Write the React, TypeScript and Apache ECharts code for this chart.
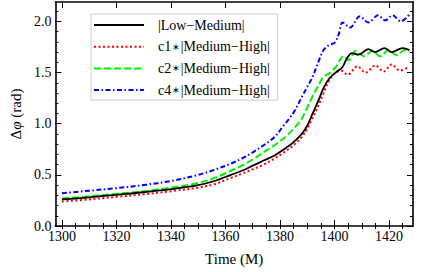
import React, { useEffect, useRef } from "react";
import * as echarts from "echarts";

const xMajor = [1300, 1320, 1340, 1360, 1380, 1400, 1420];
const xMinor = [1300, 1305, 1310, 1315, 1320, 1325, 1330, 1335, 1340, 1345, 1350, 1355, 1360, 1365, 1370, 1375, 1380, 1385, 1390, 1395, 1400, 1405, 1410, 1415, 1420, 1425];
const yMajor = [0, 0.5, 1.0, 1.5, 2.0];
const yMinor = [0, 0.1, 0.2, 0.3, 0.4, 0.5, 0.6, 0.7, 0.8, 0.9, 1.0, 1.1, 1.2, 1.3, 1.4, 1.5, 1.6, 1.7, 1.8, 1.9, 2.0, 2.1];

const seriesNames = ["|Low\u2212Medium|", "c1\u2217|Medium\u2212High|", "c2\u2217|Medium\u2212High|", "c4\u2217|Medium\u2212High|"];

const blackT = [1300, 1310, 1320, 1330, 1340, 1350, 1356, 1362, 1366, 1370, 1374, 1378, 1382, 1385, 1388, 1390, 1392, 1394, 1396, 1398, 1400.4, 1402.8, 1404.6, 1406.4, 1408.8, 1412.4, 1414.8, 1418.4, 1420.9, 1425, 1427.5];
const blackV = [0.26, 0.28, 0.305, 0.33, 0.36, 0.40, 0.44, 0.50, 0.54, 0.59, 0.64, 0.69, 0.76, 0.82, 0.90, 0.98, 1.10, 1.22, 1.35, 1.44, 1.50, 1.55, 1.64, 1.69, 1.675, 1.73, 1.70, 1.74, 1.70, 1.74, 1.72];

const redT = [1300, 1310, 1320, 1330, 1340, 1350, 1356, 1362, 1366, 1370, 1374, 1378, 1382, 1385, 1388, 1390, 1392, 1394, 1396, 1398, 1400, 1402.4, 1404.8, 1408.4, 1411.4, 1415, 1418, 1421, 1424, 1427.5];
const redV = [0.24, 0.26, 0.285, 0.31, 0.34, 0.375, 0.41, 0.47, 0.51, 0.555, 0.60, 0.66, 0.73, 0.79, 0.87, 0.95, 1.06, 1.17, 1.30, 1.42, 1.49, 1.52, 1.48, 1.56, 1.50, 1.57, 1.51, 1.58, 1.52, 1.56];

const greenT = [1300, 1310, 1320, 1330, 1340, 1350, 1356, 1362, 1366, 1370, 1374, 1378, 1382, 1385, 1388, 1390, 1392, 1394, 1396, 1398, 1400.4, 1403.4, 1405.2, 1407.8, 1410.8, 1413.8, 1416.8, 1419.8, 1422.8, 1425.8, 1427.5];
const greenV = [0.27, 0.29, 0.315, 0.34, 0.375, 0.42, 0.47, 0.54, 0.59, 0.65, 0.72, 0.79, 0.87, 0.95, 1.05, 1.16, 1.27, 1.37, 1.46, 1.49, 1.55, 1.66, 1.62, 1.71, 1.66, 1.71, 1.66, 1.72, 1.67, 1.72, 1.70];

const blueT = [1300, 1310, 1320, 1330, 1340, 1350, 1356, 1362, 1366, 1370, 1374, 1378, 1381, 1385, 1388, 1390, 1392, 1394, 1396, 1398, 1400, 1401.5, 1403, 1405.7, 1409.3, 1412.4, 1416, 1418.6, 1421.3, 1424.3, 1427.5];
const blueV = [0.32, 0.345, 0.37, 0.40, 0.44, 0.50, 0.55, 0.61, 0.66, 0.72, 0.79, 0.87, 0.97, 1.11, 1.26, 1.36, 1.46, 1.60, 1.72, 1.77, 1.79, 1.87, 1.99, 1.94, 2.05, 1.99, 2.06, 2.01, 2.06, 2.00, 2.07];

const FONT = "Liberation Serif, Times New Roman, serif";

function pairs(t: number[], v: number[]) {
  return t.map((x, i) => [x, v[i]]);
}

export default function App() {
  const ref = useRef<HTMLDivElement>(null);
  useEffect(() => {
    if (!ref.current) return;
    const chart = echarts.init(ref.current, undefined, { renderer: "svg" });
    const xMin = 1297.6, xMax = 1428.8, yMin = 0, yMax = 2.19;
    const frame = { show: true, onZero: false, lineStyle: { color: "#000", width: 1.6 } };
    const noLine = { show: false };
    const mkX = (pos: string, ticks: number[], len: number, labels: boolean, line: boolean, extra: any = {}) => ({
      type: "value", min: xMin, max: xMax, position: pos, gridIndex: 0,
      axisLine: line ? frame : noLine,
      axisTick: { show: true, inside: true, length: len, customValues: ticks, lineStyle: { color: "#000", width: 1 } },
      axisLabel: labels
        ? { show: true, customValues: xMajor, color: "#000", fontFamily: FONT, fontSize: 14, margin: 3, formatter: (v: number) => String(Math.round(v)) }
        : { show: false },
      splitLine: { show: false },
      ...extra,
    });
    const mkY = (pos: string, ticks: number[], len: number, labels: boolean, line: boolean, extra: any = {}) => ({
      type: "value", min: yMin, max: yMax, position: pos, gridIndex: 0,
      axisLine: line ? frame : noLine,
      axisTick: { show: true, inside: true, length: len, customValues: ticks, lineStyle: { color: "#000", width: 1 } },
      axisLabel: labels
        ? { show: true, customValues: yMajor, color: "#000", fontFamily: FONT, fontSize: 14, margin: 4, formatter: (v: number) => v.toFixed(1) }
        : { show: false },
      splitLine: { show: false },
      ...extra,
    });
    const lineCommon = { type: "line", showSymbol: false, symbol: "none", smooth: 0.35, xAxisIndex: 0, yAxisIndex: 0 };
    chart.setOption({
      animation: false,
      grid: { left: 48, right: 23, top: 2, bottom: 46 },
      legend: {
        orient: "vertical",
        left: 91, top: 14,
        padding: [4, 8, 3, 2],
        borderColor: "#cccccc", borderWidth: 1, backgroundColor: "#fff",
        itemWidth: 50, itemHeight: 14, itemGap: 7.7,
        itemStyle: { opacity: 0 },
        formatter: (name: string) => name.replace("\u2217", "{s|\u2217}"),
        textStyle: {
          fontFamily: FONT, fontSize: 14, color: "#000", padding: [0, 0, 0, 9],
          rich: { s: { fontFamily: "DejaVu Sans", fontSize: 9, color: "#000", padding: [0, 1, 0, 1] } },
        },
        data: seriesNames,
      },
      xAxis: [
        mkX("bottom", xMajor, 6, true, true, { name: "Time (M)", nameLocation: "middle", nameGap: 25, nameTextStyle: { fontFamily: FONT, fontSize: 15, color: "#000" } }),
        mkX("bottom", xMinor, 3, false, false),
        mkX("top", xMajor, 6, false, true),
        mkX("top", xMinor, 3, false, false),
      ],
      yAxis: [
        mkY("left", yMajor, 6, true, true, {
          name: "\u0394{b|\u03c6} (rad)", nameLocation: "middle", nameGap: 29,
          nameTextStyle: { fontFamily: FONT, fontSize: 15, color: "#000", rich: { b: { fontFamily: FONT, fontSize: 15, fontStyle: "italic", color: "#000" } } },
        }),
        mkY("left", yMinor, 3, false, false),
        mkY("right", yMajor, 6, false, true),
        mkY("right", yMinor, 3, false, false),
      ],
      series: [
        { ...lineCommon, name: seriesNames[0], data: pairs(blackT, blackV), z: 5, color: "#000", lineStyle: { color: "#000", width: 1.8, type: "solid" } },
        { ...lineCommon, name: seriesNames[1], data: pairs(redT, redV), z: 4, color: "#ff0000", lineStyle: { color: "#ff0000", width: 2, type: [2, 2.5] } },
        { ...lineCommon, name: seriesNames[2], data: pairs(greenT, greenV), z: 3, color: "#00f000", lineStyle: { color: "#00f000", width: 2, type: [7, 3] } },
        { ...lineCommon, name: seriesNames[3], data: pairs(blueT, blueV), z: 2, color: "#0000ff", lineStyle: { color: "#0000ff", width: 2, type: [5, 2.5, 1.5, 2.5] } },
      ],
    });
    return () => chart.dispose();
  }, []);
  return <div ref={ref} style={{ width: 436, height: 272, position: "absolute", left: 0, top: 0 }} />;
}
